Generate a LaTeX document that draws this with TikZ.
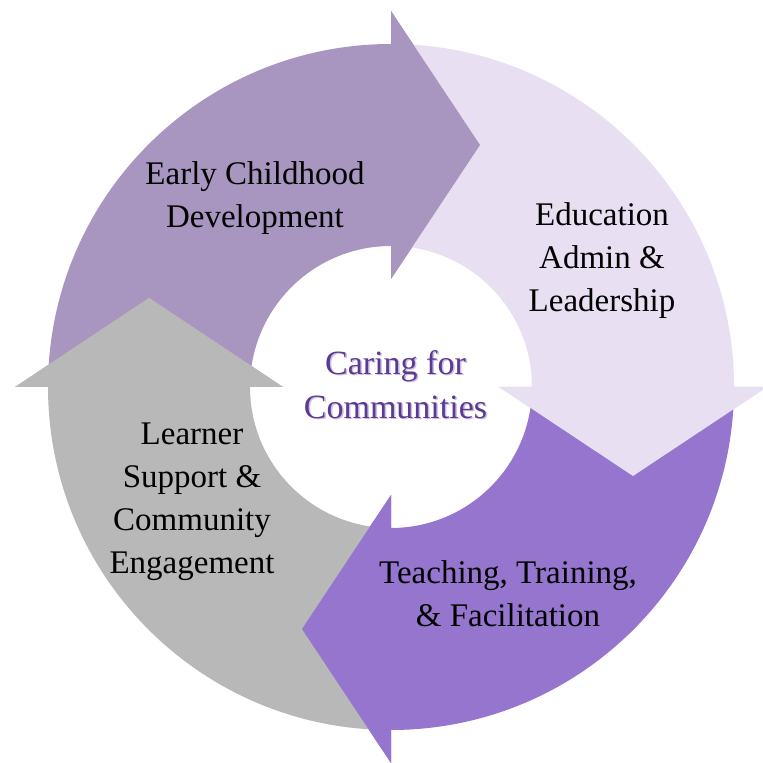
\documentclass[tikz,border=0pt]{standalone}
\usepackage{fontspec}
\setmainfont{Liberation Serif}
\definecolor{ecdcol}{HTML}{A996C0}
\definecolor{educol}{HTML}{E8DFF3}
\definecolor{teacol}{HTML}{9575CD}
\definecolor{lrncol}{HTML}{B8B8B8}
\definecolor{ctrcol}{HTML}{5B3A91}
\definecolor{shdcol}{HTML}{CDBFE3}
\tikzset{
  lbl/.style={align=center, text=black, font=\fontsize{33}{43}\selectfont, inner sep=0pt},
  ctr/.style={align=center, font=\fontsize{34}{44}\selectfont, inner sep=0pt}
}
\begin{document}
\begin{tikzpicture}[x=1pt,y=1pt]
\useasboundingbox (0,0) rectangle (763,763);
\clip (0,0) rectangle (763,763);
\fill[white] (0,0) rectangle (763,763);
\coordinate (C) at (391,376);
% arrows: ring sector + head in one path each
\fill[ecdcol] ([shift={(180:343)}]C) arc[start angle=180,end angle=90,radius=343]
  -- ([shift={(0,376)}]C) -- ([shift={(89,242)}]C) -- ([shift={(0,108)}]C)
  -- ([shift={(90:141)}]C) arc[start angle=90,end angle=180,radius=141] -- cycle;
\fill[educol] ([shift={(90:343)}]C) arc[start angle=90,end angle=0,radius=343]
  -- ([shift={(376,0)}]C) -- ([shift={(242,-89)}]C) -- ([shift={(108,0)}]C)
  -- ([shift={(0:141)}]C) arc[start angle=0,end angle=90,radius=141] -- cycle;
\fill[teacol] ([shift={(0:343)}]C) arc[start angle=0,end angle=-90,radius=343]
  -- ([shift={(0,-376)}]C) -- ([shift={(-89,-242)}]C) -- ([shift={(0,-108)}]C)
  -- ([shift={(-90:141)}]C) arc[start angle=-90,end angle=0,radius=141] -- cycle;
\fill[lrncol] ([shift={(-90:343)}]C) arc[start angle=-90,end angle=-180,radius=343]
  -- ([shift={(-376,0)}]C) -- ([shift={(-242,89)}]C) -- ([shift={(-108,0)}]C)
  -- ([shift={(-180:141)}]C) arc[start angle=-180,end angle=-90,radius=141] -- cycle;
% heads again on top (each lies over the next arrow's tail), with a thin strip
% reaching back into the arrow's own body so that no seam shows
\fill[ecdcol] ([shift={(0,108)}]C) -- ([shift={(0,142)}]C) -- ([shift={(-2,142)}]C)
  -- ([shift={(-2,342)}]C) -- ([shift={(0,342)}]C) -- ([shift={(0,376)}]C)
  -- ([shift={(89,242)}]C) -- cycle;
\fill[educol] ([shift={(108,0)}]C) -- ([shift={(142,0)}]C) -- ([shift={(142,2)}]C)
  -- ([shift={(342,2)}]C) -- ([shift={(342,0)}]C) -- ([shift={(376,0)}]C)
  -- ([shift={(242,-89)}]C) -- cycle;
\fill[teacol] ([shift={(0,-108)}]C) -- ([shift={(0,-142)}]C) -- ([shift={(2,-142)}]C)
  -- ([shift={(2,-342)}]C) -- ([shift={(0,-342)}]C) -- ([shift={(0,-376)}]C)
  -- ([shift={(-89,-242)}]C) -- cycle;
\fill[lrncol] ([shift={(-108,0)}]C) -- ([shift={(-142,0)}]C) -- ([shift={(-142,-2)}]C)
  -- ([shift={(-342,-2)}]C) -- ([shift={(-342,0)}]C) -- ([shift={(-376,0)}]C)
  -- ([shift={(-242,89)}]C) -- cycle;
% labels
\node[lbl] (ecd) at (255,565) {Early Childhood\\Development};
\node[lbl] (edu) at (602,502) {Education\\Admin \&\\Leadership};
\node[lbl] (tea) at (508,169) {Teaching, Training,\\\& Facilitation};
\node[lbl] (lrn) at (192,261) {Learner\\Support \&\\Community\\Engagement};
\node[ctr, text=shdcol] (ctrshadow) at (397,377) {Caring for\\Communities};
\node[ctr, text=ctrcol] (ctr) at (395.5,378.5) {Caring for\\Communities};
\end{tikzpicture}
\end{document}
